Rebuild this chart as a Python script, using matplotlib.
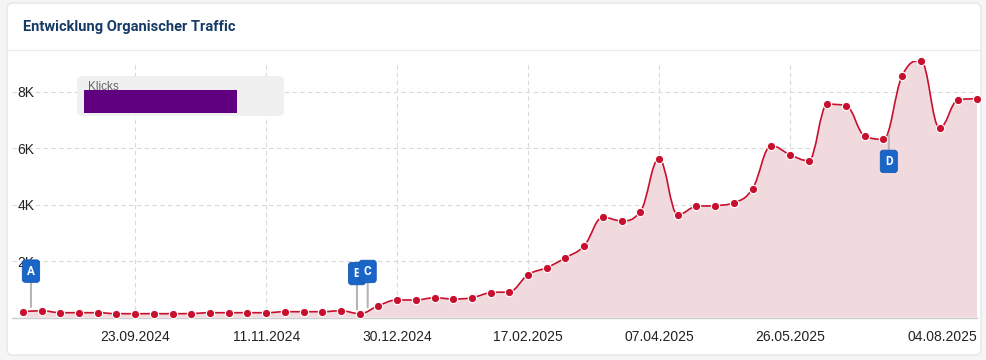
import numpy as np
import pandas as pd
import matplotlib
matplotlib.use("Agg")
import matplotlib.pyplot as plt
import matplotlib.dates as mdates
from matplotlib.path import Path
from matplotlib.patches import PathPatch, FancyBboxPatch
from matplotlib.transforms import IdentityTransform
from matplotlib.lines import Line2D

# --- Data ---
DATES = pd.date_range("2024-08-12", periods=52, freq="7D")
KLICKS = [205, 240, 170, 170, 170, 135, 135, 135, 135, 140, 170, 170, 170, 170,
          205, 205, 205, 240, 135, 420, 620, 620, 700, 655, 700, 880, 910, 1515,
          1765, 2115, 2540, 3550, 3420, 3745, 5620, 3640, 3935, 3960, 4065, 4560,
          6080, 5765, 5550, 7550, 7500, 6425, 6310, 8560, 9090, 6710, 7710, 7745]
FLAG_LABELS = ["A", "B", "C", "D"]
FLAG_DATES = pd.to_datetime(["2024-08-15", "2024-12-15", "2024-12-19", "2025-07-02"])
FLAG_ABOVE = [True, True, True, False]
TICK_DATES = pd.to_datetime(["2024-09-23", "2024-11-11", "2024-12-30", "2025-02-17",
                             "2025-04-07", "2025-05-26", "2025-08-04"])
TICK_LABELS = [d.strftime("%d.%m.%Y") for d in TICK_DATES]
Y_TICKS = [2000, 4000, 6000, 8000]
Y_LABELS = ["2K", "4K", "6K", "8K"]

# --- Style ---
W, H = 986, 360
LINE = "#c8102e"
FILL = "#f1dade"
FLAG = "#1a66c8"
GRID = "#d9d9d9"
plt.rcParams["font.family"] = ["Liberation Sans", "DejaVu Sans"]


def spline_controls(xs, ys, smoothing=1.5):
    # highcharts-like spline control points
    n = len(xs)
    lc = [(xs[i], ys[i]) for i in range(n)]
    rc = [(xs[i], ys[i]) for i in range(n)]
    d = smoothing + 1
    for i in range(1, n - 1):
        px, py = xs[i], ys[i]
        lx, ly = xs[i - 1], ys[i - 1]
        nx, ny = xs[i + 1], ys[i + 1]
        lcx = (smoothing * px + lx) / d
        lcy = (smoothing * py + ly) / d
        rcx = (smoothing * px + nx) / d
        rcy = (smoothing * py + ny) / d
        if rcx != lcx:
            corr = ((rcy - lcy) * (rcx - px)) / (rcx - lcx) + py - rcy
            lcy += corr
            rcy += corr
        if lcy > ly and lcy > py:
            lcy = max(ly, py)
            rcy = 2 * py - lcy
        elif lcy < ly and lcy < py:
            lcy = min(ly, py)
            rcy = 2 * py - lcy
        if rcy > ny and rcy > py:
            rcy = max(ny, py)
            lcy = 2 * py - rcy
        elif rcy < ny and rcy < py:
            rcy = min(ny, py)
            lcy = 2 * py - rcy
        lc[i] = (lcx, lcy)
        rc[i] = (rcx, rcy)
    return lc, rc


xs = mdates.date2num(DATES)
ys = np.array(KLICKS, dtype=float)
lc, rc = spline_controls(xs, ys)

verts = [(xs[0], ys[0])]
codes = [Path.MOVETO]
samples_x, samples_y = [], []
t = np.linspace(0, 1, 60)
for i in range(1, len(xs)):
    p0 = np.array([xs[i - 1], ys[i - 1]])
    p1 = np.array(rc[i - 1])
    p2 = np.array(lc[i])
    p3 = np.array([xs[i], ys[i]])
    verts += [tuple(p1), tuple(p2), tuple(p3)]
    codes += [Path.CURVE4] * 3
    b = ((1 - t) ** 3)[:, None] * p0 + (3 * (1 - t) ** 2 * t)[:, None] * p1 \
        + (3 * (1 - t) * t ** 2)[:, None] * p2 + (t ** 3)[:, None] * p3
    samples_x.append(b[:, 0])
    samples_y.append(b[:, 1])
samples_x = np.concatenate(samples_x)
samples_y = np.concatenate(samples_y)

fill_verts = verts + [(xs[-1], 0), (xs[0], 0), (xs[0], ys[0])]
fill_codes = codes + [Path.LINETO, Path.LINETO, Path.CLOSEPOLY]

# --- Figure / card ---
fig = plt.figure(figsize=(W / 100, H / 100), dpi=100)
fig.patch.set_facecolor("#f5f5f5")
card = FancyBboxPatch((7, H - 355), 974, 352, boxstyle="round,pad=0,rounding_size=6",
                      fc="white", ec="#e6e6e6", lw=1, transform=IdentityTransform(), zorder=0)
fig.add_artist(card)
fig.add_artist(Line2D([7 / W, 981 / W], [1 - 50 / H, 1 - 50 / H], color="#ececec", lw=1))
fig.text(23 / W, 1 - 27 / H, "Entwicklung Organischer Traffic", fontsize=10.5,
         fontweight="bold", color="#163a66", va="center", ha="left", family="Roboto")

ax = fig.add_axes([12 / W, 42.5 / H, 965 / W, 256.5 / H])
ax.set_facecolor("none")
ax.add_patch(PathPatch(Path(fill_verts, fill_codes), fc=FILL, ec="none", zorder=1))
ax.add_patch(PathPatch(Path(verts, codes), fc="none", ec=LINE, lw=1.2, zorder=3))
ax.plot(xs, ys, "o", color=LINE, ms=6, mec="white", mew=0.8, zorder=4, clip_on=False)

ax.set_xlim(xs[0] - 4.1, xs[-1])
ax.set_ylim(0, 9080)
for s in ["top", "right", "left"]:
    ax.spines[s].set_visible(False)
ax.spines["bottom"].set_color("#cccccc")
ax.spines["bottom"].set_linewidth(1)

ax.set_xticks(mdates.date2num(TICK_DATES))
ax.set_xticklabels(TICK_LABELS, fontsize=10)
ax.get_xticklabels()[-1].set_ha("right")
ax.set_yticks(Y_TICKS)
ax.set_yticklabels(Y_LABELS, fontsize=10)
for lab in ax.get_yticklabels():
    lab.set_ha("left")
ax.tick_params(axis="x", length=0, pad=9, colors="#222222")
ax.tick_params(axis="y", length=0, pad=-4, colors="#222222")
ax.grid(True, color=GRID, lw=0.8, linestyle=(0, (4, 3)), zorder=0)
ax.set_axisbelow(True)

# --- Flags ---
for lab, fd, above in zip(FLAG_LABELS, FLAG_DATES, FLAG_ABOVE):
    fxv = mdates.date2num(fd)
    fyv = np.interp(fxv, samples_x, samples_y)
    off = 40 if above else -31
    ax.annotate(lab, xy=(fxv, fyv), xytext=(0, off), textcoords="offset pixels",
                ha="center", va="center", fontsize=8.5, fontweight="bold", color="white",
                family="Roboto",
                bbox=dict(boxstyle="round,pad=0.4,rounding_size=0.25", fc=FLAG, ec="#1558b0", lw=0.6),
                arrowprops=dict(arrowstyle="-", color="#b5b5b5", lw=1.5, shrinkA=0, shrinkB=3),
                zorder=6, annotation_clip=False)

# --- Legend-like box ---
fig.add_artist(FancyBboxPatch((77, H - 116), 207, 40, boxstyle="round,pad=0,rounding_size=5",
                              fc="#f0f0f0", ec="none", transform=IdentityTransform(), zorder=7))
fig.add_artist(FancyBboxPatch((84, H - 113), 153, 23, boxstyle="square,pad=0",
                              fc="#600080", ec="none", transform=IdentityTransform(), zorder=8))
fig.text(88 / W, 1 - 87 / H, "Klicks", fontsize=8.5, color="#666666", va="center", ha="left", zorder=9)

fig.savefig("out.png", dpi=100, facecolor=fig.get_facecolor())
